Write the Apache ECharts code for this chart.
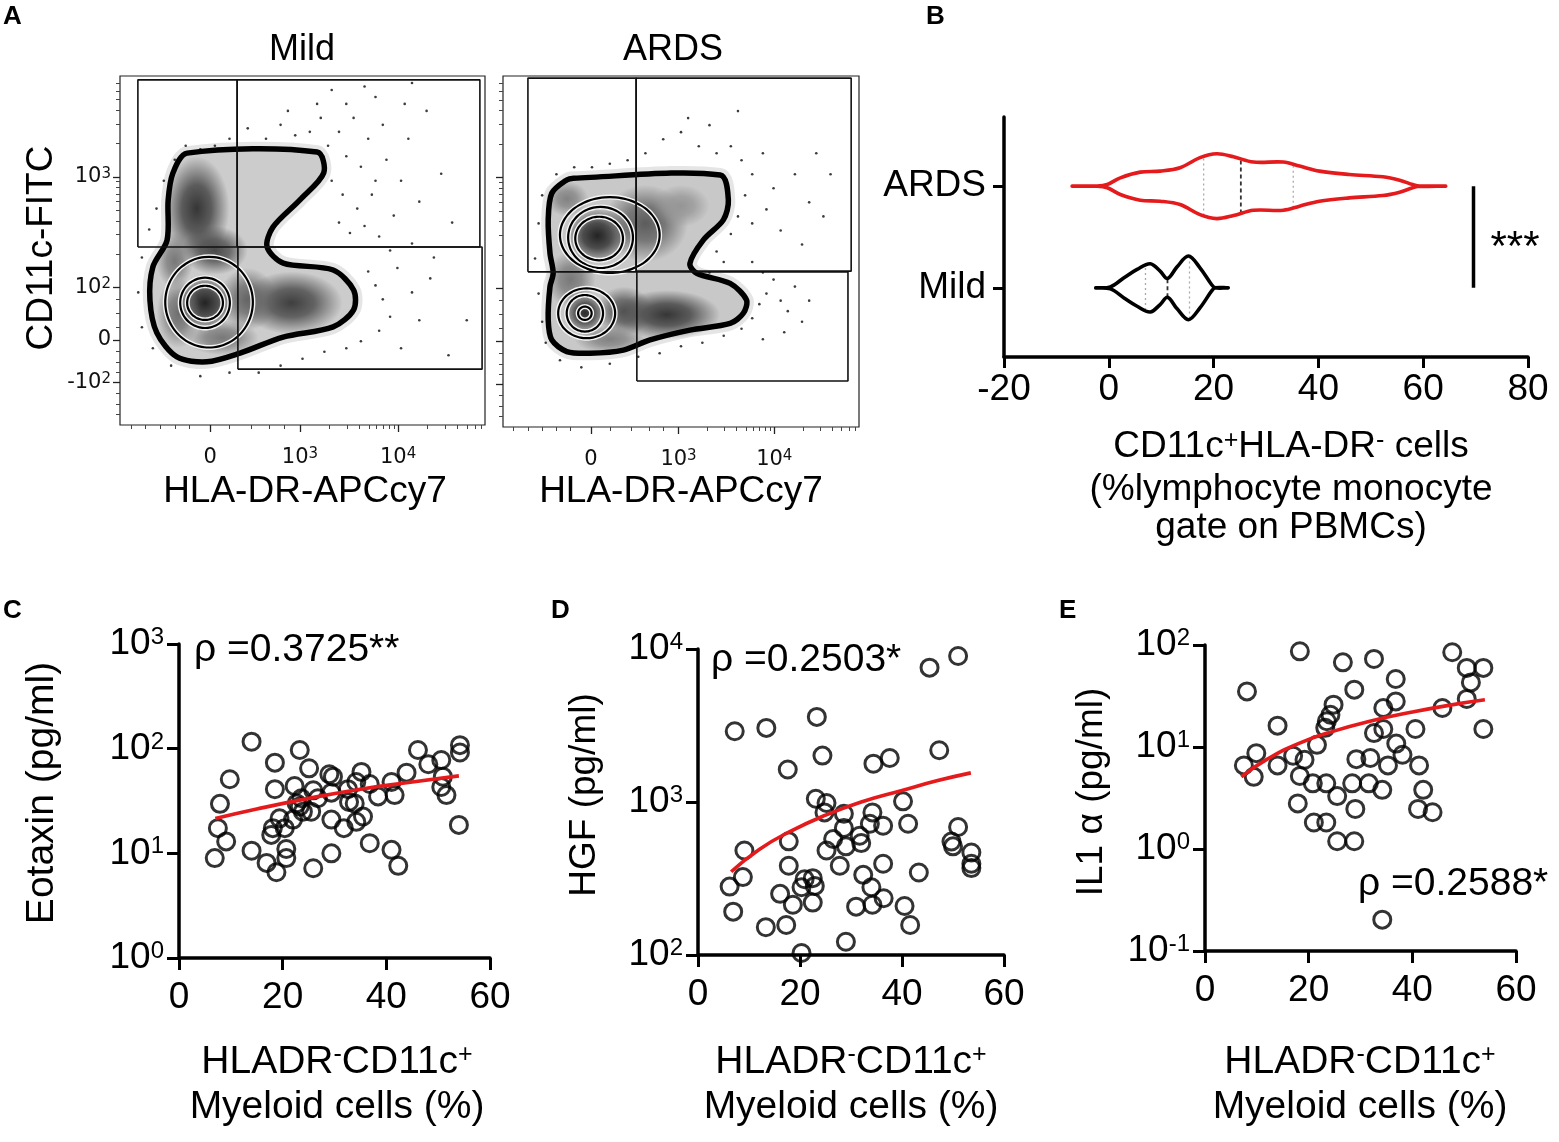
<!DOCTYPE html>
<html>
<head>
<meta charset="utf-8">
<script src="https://cdn.jsdelivr.net/npm/echarts@6/dist/echarts.min.js"></script>
<style>
  html, body { margin: 0; padding: 0; background: #fff; }
  #chart { width: 1559px; height: 1142px; }
</style>
</head>
<body>
<div id="chart"></div>
<script>
// Fonts and colours
const FONT = '"Liberation Sans", Arial, Helvetica, sans-serif';
const FLOW_FONT = '"DejaVu Sans", sans-serif';
const RED = '#e41a1c';

// ---- Panel A: flow plots, in display channels (0-100 on both axes) ----
const flowXTicks = [24.7, 49.3, 76.2];
const flowXLabels = ['0', '10{s|3}', '10{s|4}'];
const flowXMinor = [3, 7, 11, 15, 19, 30, 36, 41, 45, 57.4, 62.2, 65.5, 68.2, 70.3, 72.1, 73.7, 75.1,
  84.3, 89.1, 92.4, 95.1, 97.2, 99.0];
const flowYTicks = [12.3, 24.4, 39.5, 71.1];
const flowYLabels = ['-10{s|2}', '0', '10{s|2}', '10{s|3}'];
const flowYMinor = [3, 6, 9, 15, 18, 21, 28, 32, 36, 49.0, 54.6, 58.5, 61.6, 64.1, 66.2, 68.1, 69.7,
  80.6, 86.2, 90.1, 93.2, 95.7, 97.8];

// outer contour of the cell population
const mildOutline = [[18.4, 77.9], [54.0, 78.2], [55.8, 72.2], [49.3, 64.5], [41.9, 56.7], [40.3, 51.0],
  [44.7, 46.4], [58.4, 44.4], [64.0, 38.7], [64.0, 33.0], [58.4, 28.1], [44.7, 25.2], [32.9, 20.6],
  [23.8, 18.1], [15.6, 19.5], [10.1, 26.4], [8.2, 35.8], [9.0, 45.3], [12.9, 53.0], [13.2, 64.5], [14.5, 72.2]];
const ardsOutline = [[19.8, 70.9], [61.0, 71.8], [63.3, 64.7], [61.9, 59.0], [56.3, 53.3], [52.5, 46.6],
  [54.4, 43.8], [63.8, 40.9], [68.4, 36.2], [67.5, 32.4], [63.8, 29.5], [52.5, 27.6], [41.3, 24.8],
  [33.8, 21.9], [24.4, 21.0], [17.9, 21.5], [13.7, 24.8], [12.7, 30.5], [13.2, 40.0], [14.1, 43.8],
  [13.2, 49.5], [12.7, 59.0], [13.7, 66.6], [17.9, 70.4]];
// inner contour rings: centre x, centre y, radius x, radius y
const mildRings = [[23.3, 35, 4.9, 4.9], [23.3, 35, 6.8, 7.2], [24.4, 35.2, 12, 13]];
const ardsRings = [[27, 53.7, 6.7, 6.2], [27.4, 54, 9.1, 8.7], [30, 54.7, 14, 10.8],
  [23, 32.4, 1.9, 1.9], [23, 32.4, 5.1, 5.2], [23.5, 32.4, 8, 7.1]];
// dense regions: centre x, centre y, radius x, radius y, density 0-1
const mildPatches = [[23.3, 35, 8, 8, 0.95], [21, 62, 9, 15, 0.85], [26, 50, 9, 7, 0.75],
  [47, 35, 14, 9, 0.8], [35, 36, 8, 9, 0.6], [16, 32, 6, 10, 0.55], [28, 25, 10, 5, 0.5],
  [15, 47, 5, 8, 0.5]];
const ardsPatches = [[26.5, 54.5, 9, 8, 0.95], [23, 32.5, 6, 6, 0.9], [46, 32, 15, 7, 0.85],
  [40, 58, 12, 11, 0.65], [34, 33, 8, 7, 0.7], [19, 42, 7, 8, 0.5], [50, 63, 8, 6, 0.35],
  [30, 25, 10, 4, 0.45], [18, 65, 6, 5, 0.45]];
// gates: x1, x2, y1, y2
const mildGates = [[4.9, 32.1, 51.0, 98.9], [32.1, 98.6, 51.0, 98.9], [32.3, 99.2, 16.0, 51.0]];
const ardsGates = [[7.0, 37.4, 44.2, 99.4], [37.4, 97.8, 44.4, 99.4], [37.6, 96.9, 13.1, 44.2]];
// sparse events outside the contour
const mildDots = [[57, 80], [60, 84], [62, 77], [64, 88], [66, 74], [68, 82], [70, 70], [72, 86], [58, 70],
  [61, 66], [65, 62], [69, 66], [73, 76], [75, 60], [77, 70], [79, 82], [82, 64], [84, 90], [88, 72], [78, 92],
  [70, 94], [62, 92], [55, 88], [52, 84], [48, 83], [44, 86], [40, 82], [35, 85], [30, 82], [26, 80], [22, 79],
  [18, 80], [60, 58], [63, 55], [67, 57], [71, 54], [74, 50], [80, 52], [86, 48], [91, 58], [95, 30], [90, 20],
  [68, 44], [70, 40], [72, 36], [74, 31], [71, 27], [66, 24], [62, 22], [56, 21], [50, 19], [44, 17], [38, 15],
  [30, 15], [22, 14], [14, 17], [9, 22], [6, 28], [5, 38], [6, 48], [8, 56], [10, 62], [12, 70], [15, 76],
  [76, 45], [80, 38], [82, 30], [85, 42], [77, 22], [54, 92], [46, 90], [67, 97], [58, 96], [80, 98]];
const ardsDots = [[45, 82], [50, 84], [55, 80], [60, 78], [58, 86], [64, 80], [67, 76], [70, 72], [73, 78],
  [76, 68], [68, 66], [66, 60], [64, 55], [70, 58], [74, 62], [78, 56], [82, 72], [86, 64], [88, 78], [40, 78],
  [35, 76], [30, 75], [25, 74], [20, 74], [15, 72], [11, 66], [10, 58], [9, 48], [10, 38], [11, 30], [12, 24],
  [16, 19], [22, 17], [30, 18], [38, 20], [44, 21], [50, 23], [56, 24], [62, 26], [67, 28], [70, 31], [72, 35],
  [74, 38], [73, 44], [70, 47], [76, 42], [78, 36], [80, 33], [82, 40], [84, 30], [79, 27], [73, 25], [86, 36],
  [60, 50], [62, 47], [58, 44], [90, 60], [84, 52], [66, 90], [52, 88], [92, 72]];

// ---- Panel B: violin profiles (half height in category units) ----
const ardsViolinX = [-7.0, -2.2, -0.3, 2.2, 6.0, 9.8, 13.6, 17.4, 20.6, 23.8, 27.6, 33.3, 36.4, 40.2,
  45.9, 52.3, 55.5, 58.0, 59.3, 64.3];
const ardsViolinHalf = [0, 0, 0.016, 0.082, 0.138, 0.148, 0.181, 0.280, 0.319, 0.289, 0.237, 0.237,
  0.197, 0.148, 0.115, 0.092, 0.059, 0.016, 0, 0];
const ardsQuartiles = [18.1, 25.2, 35.2];
const mildViolinX = [-2.5, 0.3, 2.9, 5.4, 7.9, 9.8, 11.2, 13.0, 15.2, 17.4, 19.6, 20.3, 22.8];
const mildViolinHalf = [0, 0.010, 0.099, 0.181, 0.237, 0.164, 0.092, 0.204, 0.313, 0.197, 0.033, 0, 0];
const mildQuartiles = [7.0, 11.2, 15.4];
const sigBarX = 69.6;

// ---- Panels C-E: % myeloid cells vs cytokine ----
const eotaxinPoints = [[14.0, 116.6], [23.3, 97], [18.5, 73.5], [25.1, 64.9], [9.8, 51], [7.9, 29.7],
  [22.3, 44], [18.5, 41], [25.9, 40], [29.0, 57], [29.7, 54], [29.4, 38], [32.6, 41], [32.8, 31], [35.2, 60],
  [34.2, 48], [36.8, 46], [38.4, 35], [41.0, 48], [41.6, 36], [43.9, 59], [46.1, 97], [48.1, 71], [50.6, 78],
  [50.9, 54], [50.6, 43], [51.6, 36], [54.2, 108], [54.2, 92], [54.0, 18.7], [7.5, 17.4], [9.1, 13], [6.9, 9.0],
  [14.0, 10.6], [16.9, 8.1], [18.8, 6.6], [20.7, 11], [20.7, 9.0], [17.8, 15], [18.1, 17.4], [19.4, 21.6],
  [20.4, 17.4], [22.0, 21], [23.3, 28], [23.9, 25], [25.5, 25], [26.8, 33.6], [25.9, 7.2], [29.4, 21],
  [29.4, 10], [31.8, 17.4], [34.2, 20], [35.5, 22.5], [36.8, 12.5], [41.0, 10.8], [42.3, 7.6], [33.9, 30],
  [23.6, 33.6], [22.7, 30]];
const eotaxinFit = [[7, 21.5], [15, 26.5], [25, 33.5], [35, 41], [45, 48], [54, 55]];

const hgfPoints = [[45.4, 7550], [51.0, 9000], [7.2, 2900], [13.4, 3050], [23.3, 3600], [24.4, 2010],
  [17.6, 1630], [34.4, 1780], [37.6, 1940], [47.3, 2180], [23.1, 1050], [25.2, 985], [24.8, 855], [28.6, 838],
  [34.2, 855], [40.2, 1010], [33.7, 721], [36.3, 700], [41.2, 721], [51.0, 686], [28.6, 676], [31.7, 602],
  [26.5, 573], [29.0, 513], [32.0, 539], [17.8, 553], [9.1, 482], [25.2, 482], [50.0, 513], [53.6, 468],
  [53.6, 370], [53.6, 395], [17.8, 383], [27.8, 383], [36.3, 395], [8.8, 323], [6.2, 280], [32.4, 334],
  [43.3, 346], [34.0, 277], [20.9, 313], [22.5, 318], [22.9, 283], [20.3, 277], [16.1, 251], [18.6, 213],
  [22.5, 220], [34.2, 213], [36.4, 235], [31.0, 207], [40.5, 209], [6.9, 192], [13.3, 152], [17.3, 157],
  [41.6, 157], [29.0, 122], [20.3, 103], [49.7, 552]];
const hgfFit = [[6.5, 350], [12, 490], [18, 640], [25, 820], [32, 1000], [40, 1190], [47, 1380], [53.5, 1550]];

const il1aPoints = [[18.3, 86.7], [26.6, 67.6], [32.6, 73], [47.7, 84.8], [50.5, 59.6], [53.7, 59.6],
  [51.3, 43], [50.5, 29.6], [53.7, 15], [8.1, 35.1], [28.8, 36.5], [36.8, 46.4], [36.8, 28], [34.4, 24.1],
  [45.8, 24.1], [24.8, 26], [24.2, 20.7], [23.5, 17.9], [23.2, 15.4], [32.6, 13.7], [34.4, 15], [40.6, 15],
  [21.6, 10.5], [14.0, 16.2], [9.9, 8.7], [7.5, 6.6], [9.4, 5.1], [14.0, 6.6], [17.0, 8.2], [19.2, 7.5],
  [18.3, 5.2], [20.8, 4.4], [23.4, 4.4], [25.5, 3.3], [28.4, 4.4], [29.2, 7.6], [31.9, 7.8], [31.6, 4.4],
  [34.2, 3.8], [35.3, 6.6], [36.9, 10.8], [38.1, 8.4], [41.3, 6.6], [42.1, 3.8], [41.1, 2.47], [43.9, 2.29],
  [17.9, 2.8], [21.0, 1.82], [23.4, 1.82], [25.5, 1.19], [28.8, 1.19], [29.0, 2.47], [34.2, 0.203]];
const il1aFit = [[7, 5.1], [12, 7.6], [18, 10.8], [25, 14.4], [32, 18], [40, 22], [47, 25.6], [54, 29]];

// ---------------------------------------------------------------------
const chart = echarts.init(document.getElementById('chart'));

function pickLabel(ticks, labels, v) {
  for (let i = 0; i < ticks.length; i++) {
    if (Math.abs(ticks[i] - v) < 1e-6) return labels[i];
  }
  return '';
}

function powLabel(v) {
  return '10{s|' + Math.round(Math.log10(v)) + '}';
}

const bigLabel = {
  fontFamily: FONT, fontSize: 37, color: '#000',
  rich: { s: { fontFamily: FONT, fontSize: 24, verticalAlign: 'top', color: '#000' } }
};
const thickLine = { show: true, onZero: false, lineStyle: { color: '#000', width: 3.5 } };
const thickTick = { show: true, length: 12, lineStyle: { color: '#000', width: 3 } };

function flowAxisPair(gridIndex, dim, showLabels) {
  const ticks = dim === 'x' ? flowXTicks : flowYTicks;
  const labels = dim === 'x' ? flowXLabels : flowYLabels;
  const minor = dim === 'x' ? flowXMinor : flowYMinor;
  const base = { type: 'value', gridIndex, min: 0, max: 100, splitLine: { show: false },
    position: dim === 'x' ? 'bottom' : 'left', axisLine: { show: false, onZero: false } };
  return [
    Object.assign({}, base, {
      axisTick: { show: true, length: 7, customValues: ticks, lineStyle: { color: '#222', width: 1.3 } },
      axisLabel: {
        show: showLabels, customValues: ticks, margin: dim === 'x' ? 22 : 9,
        fontFamily: FLOW_FONT, fontSize: 21, color: '#111',
        rich: { s: { fontFamily: FLOW_FONT, fontSize: 15, verticalAlign: 'top', color: '#111' } },
        formatter: v => pickLabel(ticks, labels, v)
      }
    }),
    Object.assign({}, base, {
      axisTick: { show: true, length: 4, customValues: minor, lineStyle: { color: '#444', width: 1 } },
      axisLabel: { show: false }
    })
  ];
}

// drawing helpers for panel A
function ellipsePoints(api, cx, cy, rx, ry) {
  const pts = [];
  for (let k = 0; k < 56; k++) {
    const t = k / 56 * Math.PI * 2;
    pts.push(api.coord([cx + rx * Math.cos(t), cy + ry * Math.sin(t)]));
  }
  return pts;
}

function outlineSeries(axis, outline, style, z) {
  return {
    type: 'custom', xAxisIndex: axis, yAxisIndex: axis, z, silent: true, data: [0],
    renderItem: (params, api) => ({
      type: 'polygon',
      shape: { points: outline.map(p => api.coord(p)), smooth: 0.3 },
      style
    })
  };
}

function patchSeries(axis, patches) {
  return {
    type: 'custom', xAxisIndex: axis, yAxisIndex: axis, z: 3, silent: true, data: patches,
    renderItem: (params, api) => {
      const c = api.coord([api.value(0), api.value(1)]);
      const s = api.size([api.value(2), api.value(3)]);
      const g = Math.round(215 - api.value(4) * 190);
      return {
        type: 'circle', x: c[0], y: c[1], scaleX: s[0], scaleY: s[1],
        shape: { cx: 0, cy: 0, r: 1 },
        style: {
          fill: new echarts.graphic.RadialGradient(0.5, 0.5, 0.5, [
            { offset: 0, color: `rgba(${g},${g},${g},1)` },
            { offset: 0.45, color: `rgba(${g},${g},${g},0.75)` },
            { offset: 1, color: `rgba(${g},${g},${g},0)` }
          ])
        }
      };
    }
  };
}

function ringSeries(axis, rings) {
  return {
    type: 'custom', xAxisIndex: axis, yAxisIndex: axis, z: 4, silent: true, data: rings,
    renderItem: (params, api) => {
      const pts = ellipsePoints(api, api.value(0), api.value(1), api.value(2), api.value(3));
      return {
        type: 'group', children: [
          { type: 'polygon', shape: { points: pts, smooth: 0.2 }, style: { fill: 'none', stroke: '#f4f4f4', lineWidth: 5 } },
          { type: 'polygon', shape: { points: pts, smooth: 0.2 }, style: { fill: 'none', stroke: '#000', lineWidth: 2.2 } }
        ]
      };
    }
  };
}

function gateSeries(axis, gates) {
  return gates.map(g => ({
    type: 'line', xAxisIndex: axis, yAxisIndex: axis, z: 6, silent: true, symbol: 'none',
    lineStyle: { color: '#111', width: 1.6 },
    data: [[g[0], g[2]], [g[1], g[2]], [g[1], g[3]], [g[0], g[3]], [g[0], g[2]]]
  }));
}

function dotSeries(axis, dots) {
  return {
    type: 'scatter', xAxisIndex: axis, yAxisIndex: axis, z: 2, silent: true,
    symbolSize: 2.6, itemStyle: { color: '#1a1a1a', opacity: 0.85 }, data: dots
  };
}

function flowSeries(axis, outline, patches, rings, gates, dots, base) {
  return [
    outlineSeries(axis, outline, { fill: 'none', stroke: 'rgba(0,0,0,0.1)', lineWidth: 14 }, 1),
    dotSeries(axis, dots),
    outlineSeries(axis, outline, { fill: base, stroke: 'none' }, 2),
    patchSeries(axis, patches),
    ringSeries(axis, rings),
    outlineSeries(axis, outline, { fill: 'none', stroke: '#000', lineWidth: 5.5, lineJoin: 'round' }, 5)
  ].concat(gateSeries(axis, gates));
}

// panel B violin
function interpHalf(xs, hs, q) {
  for (let i = 1; i < xs.length; i++) {
    if (q <= xs[i]) {
      const f = (q - xs[i - 1]) / (xs[i] - xs[i - 1]);
      return hs[i - 1] + f * (hs[i] - hs[i - 1]);
    }
  }
  return 0;
}

function violinSeries(xs, hs, quarts, cat, color) {
  return {
    type: 'custom', xAxisIndex: 4, yAxisIndex: 4, z: 3, silent: true, data: [0],
    renderItem: (params, api) => {
      const top = xs.map((x, i) => api.coord([x, cat + hs[i]]));
      const bottom = xs.map((x, i) => api.coord([x, cat - hs[i]])).reverse();
      const children = quarts.map((q, i) => {
        const h = interpHalf(xs, hs, q);
        const a = api.coord([q, cat - h]);
        const b = api.coord([q, cat + h]);
        return {
          type: 'line', shape: { x1: a[0], y1: a[1], x2: b[0], y2: b[1] },
          style: i === 1
            ? { stroke: '#333', lineWidth: 1.8, lineDash: [4, 3] }
            : { stroke: '#aaa', lineWidth: 1.3, lineDash: [2, 3] }
        };
      });
      children.push({
        type: 'polygon', shape: { points: top.concat(bottom), smooth: 0.35 },
        style: { fill: 'none', stroke: color, lineWidth: 3.6, lineJoin: 'round' }
      });
      return { type: 'group', children };
    }
  };
}

// panels C-E
function corrSeries(axis, points, fit) {
  return [
    {
      type: 'scatter', xAxisIndex: axis, yAxisIndex: axis, z: 3, silent: true,
      symbol: 'circle', symbolSize: 17,
      itemStyle: { color: 'rgba(255,255,255,0)', borderColor: '#000', borderWidth: 3 },
      data: points
    },
    {
      type: 'line', xAxisIndex: axis, yAxisIndex: axis, z: 4, silent: true, smooth: true,
      symbol: 'none', lineStyle: { color: RED, width: 3.6 }, data: fit
    }
  ];
}

function corrXAxis(gridIndex) {
  return {
    type: 'value', gridIndex, min: 0, max: 60, interval: 20, splitLine: { show: false },
    axisLine: thickLine, axisTick: thickTick,
    axisLabel: Object.assign({ margin: 21 }, bigLabel)
  };
}

function corrYAxis(gridIndex, min, max) {
  return {
    type: 'log', logBase: 10, gridIndex, min, max, splitLine: { show: false },
    axisLine: thickLine, axisTick: thickTick,
    axisLabel: Object.assign({ margin: 15, formatter: powLabel }, bigLabel)
  };
}

// free text
function txt(text, x, y, o = {}) {
  return {
    type: 'text', x, y, rotation: o.rot || 0, silent: true,
    style: {
      text, fill: '#000', fontFamily: o.family || FONT, fontSize: o.size || 37,
      fontWeight: o.weight || 'normal', align: o.align || 'center', verticalAlign: 'middle',
      rich: { s: { fontFamily: FONT, fontSize: 25, verticalAlign: 'top', fill: '#000' } }
    }
  };
}

const mildX = flowAxisPair(0, 'x', true);
const mildY = flowAxisPair(0, 'y', true);
const ardsX = flowAxisPair(1, 'x', true);
const ardsY = flowAxisPair(1, 'y', false);

const option = {
  animation: false,
  backgroundColor: '#fff',
  textStyle: { fontFamily: FONT },
  grid: [
    { left: 120, top: 76, width: 365, height: 349, show: true, borderColor: '#222', borderWidth: 1.2 },
    { left: 503, top: 76, width: 356, height: 351, show: true, borderColor: '#222', borderWidth: 1.2 },
    { left: 1004, top: 117, width: 524, height: 240 },
    { left: 179, top: 644, width: 311, height: 314 },
    { left: 698, top: 649, width: 306, height: 306 },
    { left: 1205, top: 645, width: 311, height: 306 }
  ],
  // axis order: 0 Mild, 1 Mild minor, 2 ARDS, 3 ARDS minor, 4 B, 5 C, 6 D, 7 E
  xAxis: [
    mildX[0], mildX[1], ardsX[0], ardsX[1],
    {
      type: 'value', gridIndex: 2, min: -20, max: 80, interval: 20, splitLine: { show: false },
      axisLine: thickLine, axisTick: { show: true, length: 11, lineStyle: { color: '#000', width: 3 } },
      axisLabel: Object.assign({ margin: 14 }, bigLabel)
    },
    corrXAxis(3), corrXAxis(4), corrXAxis(5)
  ],
  yAxis: [
    mildY[0], mildY[1], ardsY[0], ardsY[1],
    {
      type: 'value', gridIndex: 2, min: 0.32, max: 2.68, splitLine: { show: false },
      axisLine: thickLine,
      axisTick: { show: true, length: 11, customValues: [1, 2], lineStyle: { color: '#000', width: 3 } },
      axisLabel: Object.assign({ margin: 18, customValues: [1, 2], formatter: v => (v > 1.5 ? 'ARDS' : 'Mild') }, bigLabel)
    },
    corrYAxis(3, 1, 1000), corrYAxis(4, 100, 10000), corrYAxis(5, 0.1, 100)
  ],
  series: [].concat(
    flowSeries(0, mildOutline, mildPatches, mildRings, mildGates, mildDots, '#cccccc'),
    flowSeries(2, ardsOutline, ardsPatches, ardsRings, ardsGates, ardsDots, '#c8c8c8'),
    [
      violinSeries(ardsViolinX, ardsViolinHalf, ardsQuartiles, 2, RED),
      violinSeries(mildViolinX, mildViolinHalf, mildQuartiles, 1, '#000'),
      {
        type: 'line', xAxisIndex: 4, yAxisIndex: 4, silent: true, symbol: 'none',
        lineStyle: { color: '#000', width: 3.5 }, data: [[sigBarX, 2], [sigBarX, 1]]
      }
    ],
    corrSeries(5, eotaxinPoints, eotaxinFit),
    corrSeries(6, hgfPoints, hgfFit),
    corrSeries(7, il1aPoints, il1aFit)
  ),
  graphic: [
    txt('A', 3, 17, { align: 'left', weight: 'bold', size: 26 }),
    txt('B', 926, 17, { align: 'left', weight: 'bold', size: 26 }),
    txt('C', 3, 611, { align: 'left', weight: 'bold', size: 26 }),
    txt('D', 551, 611, { align: 'left', weight: 'bold', size: 26 }),
    txt('E', 1059, 611, { align: 'left', weight: 'bold', size: 26 }),
    txt('Mild', 302, 50, { size: 36 }),
    txt('ARDS', 673, 50, { size: 36 }),
    txt('CD11c-FITC', 42, 248, { rot: Math.PI / 2 }),
    txt('HLA-DR-APCcy7', 305, 492),
    txt('HLA-DR-APCcy7', 681, 492),
    txt('CD11c{s|+}HLA-DR{s|-} cells', 1291, 447),
    txt('(%lymphocyte monocyte', 1291, 490),
    txt('gate on PBMCs)', 1291, 528),
    txt('***', 1515, 248, { size: 42 }),
    txt('HLADR{s|-}CD11c{s|+}', 337, 1062, { size: 39 }),
    txt('Myeloid cells (%)', 337, 1107, { size: 39 }),
    txt('HLADR{s|-}CD11c{s|+}', 851, 1062, { size: 39 }),
    txt('Myeloid cells (%)', 851, 1107, { size: 39 }),
    txt('HLADR{s|-}CD11c{s|+}', 1360, 1062, { size: 39 }),
    txt('Myeloid cells (%)', 1360, 1107, { size: 39 }),
    txt('Eotaxin (pg/ml)', 42, 793, { rot: Math.PI / 2, size: 39 }),
    txt('HGF (pg/ml)', 585, 795, { rot: Math.PI / 2 }),
    txt('IL1 \u03b1 (pg/ml)', 1092, 792, { rot: Math.PI / 2 }),
    txt('\u03c1 =0.3725**', 194, 650, { align: 'left', size: 39 }),
    txt('\u03c1 =0.2503*', 711, 660, { align: 'left', size: 39 }),
    txt('\u03c1 =0.2588*', 1358, 884, { align: 'left', size: 39 })
  ]
};

chart.setOption(option);
</script>
</body>
</html>
